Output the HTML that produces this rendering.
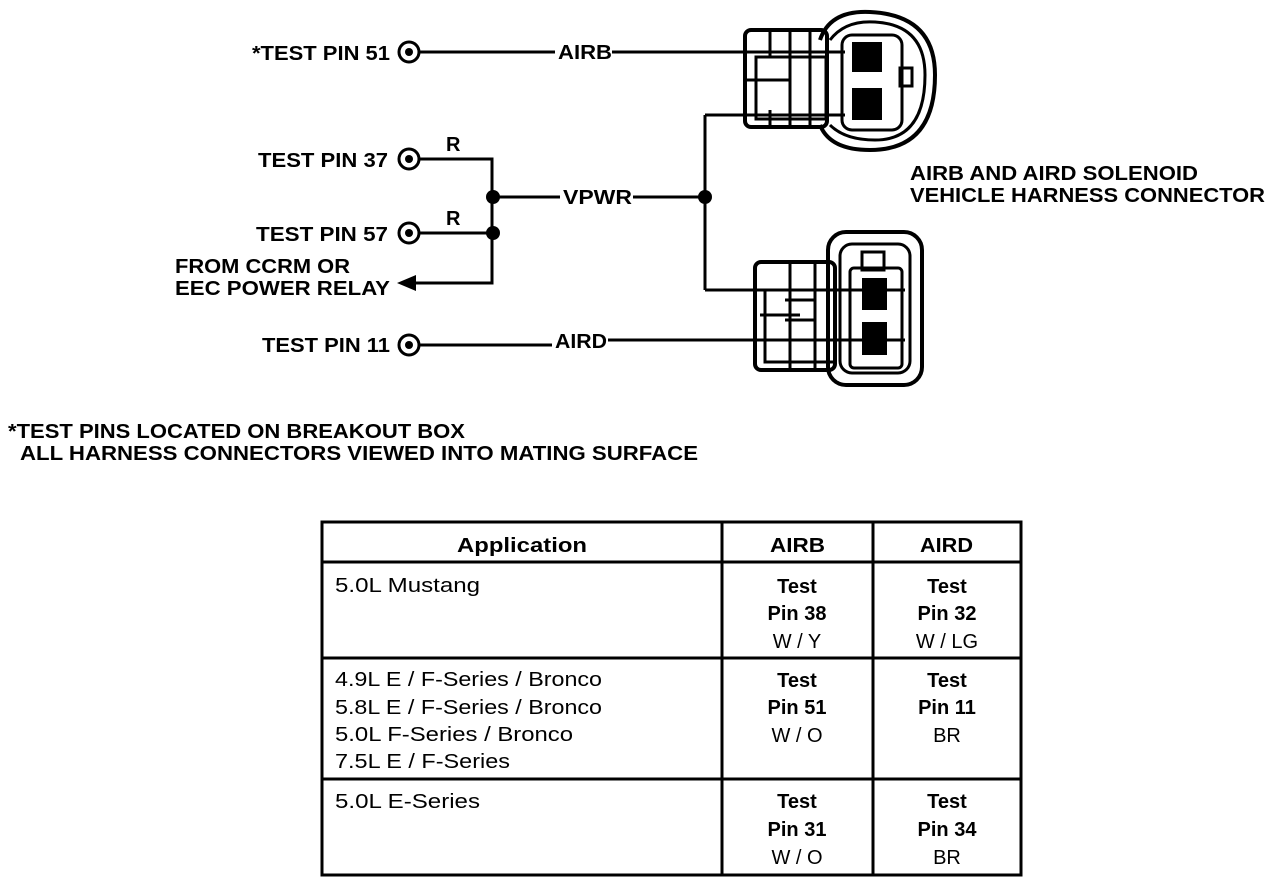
<!DOCTYPE html>
<html><head><style>
html,body{margin:0;padding:0;background:#fff;}
svg{display:block}
text{font-family:"Liberation Sans",sans-serif;font-weight:bold;fill:#000}
.n{font-weight:normal}
</style></head><body>
<svg width="1280" height="882" viewBox="0 0 1280 882" xmlns="http://www.w3.org/2000/svg">
<g font-size="20" lengthAdjust="spacingAndGlyphs">
<text x="252" y="60" textLength="138" lengthAdjust="spacingAndGlyphs">*TEST PIN 51</text>
<text x="258" y="167" textLength="130" lengthAdjust="spacingAndGlyphs">TEST PIN 37</text>
<text x="256" y="241" textLength="132" lengthAdjust="spacingAndGlyphs">TEST PIN 57</text>
<text x="175" y="273" textLength="175" lengthAdjust="spacingAndGlyphs">FROM CCRM OR</text>
<text x="175" y="295" textLength="215" lengthAdjust="spacingAndGlyphs">EEC POWER RELAY</text>
<text x="262" y="352" textLength="128" lengthAdjust="spacingAndGlyphs">TEST PIN 11</text>
<text x="558" y="59" textLength="54" lengthAdjust="spacingAndGlyphs">AIRB</text>
<text x="563" y="204" textLength="69" lengthAdjust="spacingAndGlyphs">VPWR</text>
<text x="555" y="348" textLength="52" lengthAdjust="spacingAndGlyphs">AIRD</text>
<text x="446" y="151">R</text>
<text x="446" y="225">R</text>
<text x="910" y="180" textLength="288" lengthAdjust="spacingAndGlyphs">AIRB AND AIRD SOLENOID</text>
<text x="910" y="202" textLength="355" lengthAdjust="spacingAndGlyphs">VEHICLE HARNESS CONNECTOR</text>
<text x="8" y="438" textLength="457" lengthAdjust="spacingAndGlyphs">*TEST PINS LOCATED ON BREAKOUT BOX</text>
<text x="20" y="460" textLength="678" lengthAdjust="spacingAndGlyphs">ALL HARNESS CONNECTORS VIEWED INTO MATING SURFACE</text>
</g>
<g stroke="#000" stroke-width="3" fill="none">
<circle cx="409" cy="52" r="10"/><circle cx="409" cy="159" r="10"/><circle cx="409" cy="233" r="10"/><circle cx="409" cy="345" r="10"/>
<path d="M419 52H555M612 52H845"/>
<path d="M419 159H492V233M419 233H492V283H410"/>
<path d="M493 197H560M633 197H705M705 115V290M705 115H845M705 290H905"/>
<path d="M419 345H552M608 340H905"/>
<path d="M745 80H790M760 315H800"/>
<!-- top connector -->
<path d="M820 40 Q830 10 870 12 Q935 15 935 75 Q935 150 870 150 Q830 150 820 125" stroke-width="4"/>
<path d="M830 40 Q845 20 875 22 Q925 25 925 75 Q925 140 875 140 Q845 140 830 125"/>
<rect x="842" y="35" width="60" height="95" rx="10"/>
<rect x="745" y="30" width="82" height="97" rx="6" stroke-width="4"/>
<rect x="756" y="57" width="70" height="62"/>
<path d="M790 30V127M810 30V127M770 30V57M770 110V127"/>
<rect x="900" y="68" width="12" height="18"/>
<!-- bottom connector -->
<rect x="828" y="232" width="94" height="153" rx="18" stroke-width="4"/>
<rect x="840" y="244" width="70" height="129" rx="12"/>
<rect x="850" y="268" width="52" height="100" rx="4"/>
<rect x="862" y="252" width="22" height="18"/>
<rect x="755" y="262" width="80" height="108" rx="6" stroke-width="4"/>
<rect x="765" y="290" width="70" height="72"/>
<path d="M790 262V370M815 262V370M785 300H815M785 320H815"/>
</g>
<g fill="#000">
<circle cx="409" cy="52" r="4"/><circle cx="409" cy="159" r="4"/><circle cx="409" cy="233" r="4"/><circle cx="409" cy="345" r="4"/>
<circle cx="493" cy="197" r="7"/><circle cx="493" cy="233" r="7"/><circle cx="705" cy="197" r="7"/>
<polygon points="397,283 416,275 416,291"/>
<rect x="852" y="42" width="30" height="30"/><rect x="852" y="88" width="30" height="32"/>
<rect x="862" y="278" width="25" height="32"/><rect x="862" y="322" width="25" height="33"/>
</g>
<g stroke="#000" stroke-width="3" fill="none">
<rect x="322" y="522" width="699" height="353"/>
<path d="M722 522V875M873 522V875M322 562H1021M322 658H1021M322 779H1021"/>
</g>
<g font-size="20">
<text x="457" y="552" textLength="130" lengthAdjust="spacingAndGlyphs">Application</text>
<text x="770" y="552" textLength="55" lengthAdjust="spacingAndGlyphs">AIRB</text>
<text x="920" y="552" textLength="53" lengthAdjust="spacingAndGlyphs">AIRD</text>
</g>
<g font-size="20">
<text class="n" x="335" y="592" textLength="145" lengthAdjust="spacingAndGlyphs">5.0L Mustang</text>
<text class="n" x="335" y="686" textLength="267" lengthAdjust="spacingAndGlyphs">4.9L E / F-Series / Bronco</text>
<text class="n" x="335" y="714" textLength="267" lengthAdjust="spacingAndGlyphs">5.8L E / F-Series / Bronco</text>
<text class="n" x="335" y="741" textLength="238" lengthAdjust="spacingAndGlyphs">5.0L F-Series / Bronco</text>
<text class="n" x="335" y="768" textLength="175" lengthAdjust="spacingAndGlyphs">7.5L E / F-Series</text>
<text class="n" x="335" y="808" textLength="145" lengthAdjust="spacingAndGlyphs">5.0L E-Series</text>
</g>
<g font-size="20" text-anchor="middle">
<text x="797" y="593">Test</text><text x="797" y="620">Pin 38</text><text class="n" x="797" y="648">W / Y</text>
<text x="947" y="593">Test</text><text x="947" y="620">Pin 32</text><text class="n" x="947" y="648">W / LG</text>
<text x="797" y="687">Test</text><text x="797" y="714">Pin 51</text><text class="n" x="797" y="742">W / O</text>
<text x="947" y="687">Test</text><text x="947" y="714">Pin 11</text><text class="n" x="947" y="742">BR</text>
<text x="797" y="808">Test</text><text x="797" y="836">Pin 31</text><text class="n" x="797" y="864">W / O</text>
<text x="947" y="808">Test</text><text x="947" y="836">Pin 34</text><text class="n" x="947" y="864">BR</text>
</g>
</svg>
</body></html>
